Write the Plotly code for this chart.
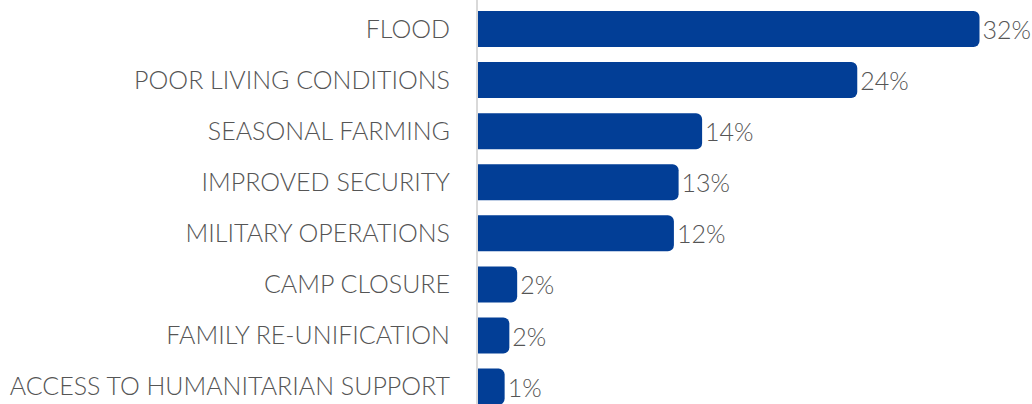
import plotly.graph_objects as go

categories = [
    "FLOOD",
    "POOR LIVING CONDITIONS",
    "SEASONAL FARMING",
    "IMPROVED SECURITY",
    "MILITARY OPERATIONS",
    "CAMP CLOSURE",
    "FAMILY RE-UNIFICATION",
    "ACCESS TO HUMANITARIAN SUPPORT",
]
shares = [32.0, 24.2, 14.3, 12.8, 12.5, 2.5, 2.0, 1.7]
share_labels = ["32%", "24%", "14%", "13%", "12%", "2%", "2%", "1%"]

FONT = "Lato"
GREY = "#555555"
BLUE = "#023e96"

fig = go.Figure(
    go.Bar(
        x=shares,
        y=categories,
        orientation="h",
        marker=dict(color=BLUE, cornerradius=6, line=dict(width=0)),
        text=share_labels,
        textposition="outside",
        cliponaxis=False,
        constraintext="none",
        textfont=dict(family=FONT, size=25, color=GREY, weight=300),
        hoverinfo="skip",
    )
)

fig.update_layout(
    width=1032,
    height=404,
    margin=dict(l=478, r=0, t=0, b=0),
    paper_bgcolor="white",
    plot_bgcolor="white",
    bargap=0.295,
    showlegend=False,
    font=dict(family=FONT, size=25, color=GREY, weight=300),
)
fig.update_xaxes(visible=False, range=[0, 35.35], fixedrange=True)
fig.update_yaxes(
    type="category",
    range=[7.34, -0.5675],
    showline=True,
    linecolor="#d9d9d9",
    linewidth=2,
    showgrid=False,
    zeroline=False,
    ticks="",
    ticklabelstandoff=21,
    tickfont=dict(family=FONT, size=25, color=GREY, weight=300),
)

fig.write_html(
    "out.html",
    config={"displayModeBar": False},
    post_script="document.body.style.margin='0';document.body.style.overflow='hidden';",
)
